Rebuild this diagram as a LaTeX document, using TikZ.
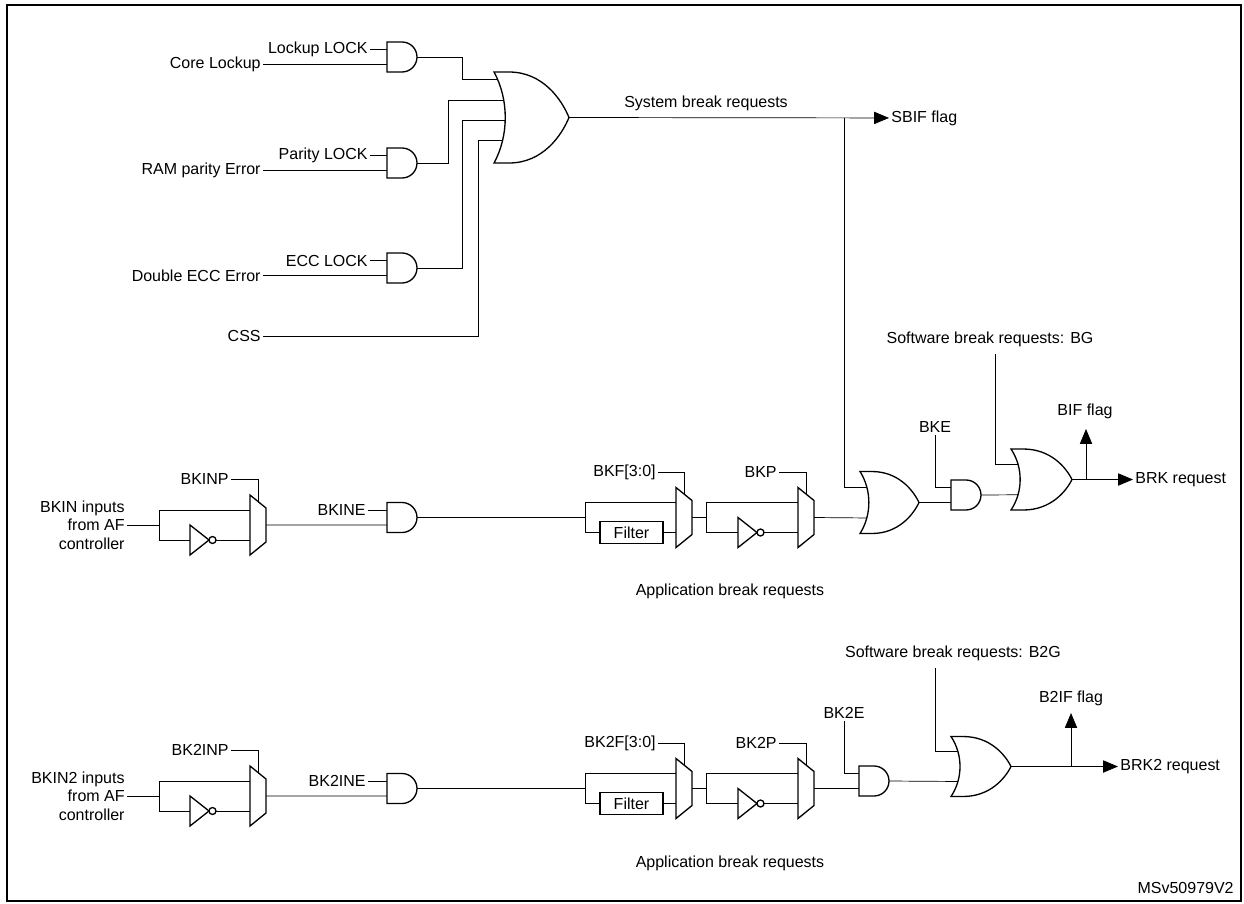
\documentclass[tikz,border=0pt]{standalone}
\usepackage{fontspec}
\setmainfont{Liberation Sans}
\usetikzlibrary{arrows.meta,backgrounds}

\begin{document}
\begin{tikzpicture}[x=0.02cm,y=-0.02cm,line width=0.75pt]
		\tikzset{gate/.style={draw,fill=white,line join=miter},
			lbl/.style={inner sep=1pt,font=\fontsize{9.1}{10.5}\selectfont},
			flag/.style={-{Triangle[length=8.5pt,width=7pt]}},
			pics/andg/.style={code={
				\draw[gate] (0,-15) -- (15,-15) arc[start angle=90,end angle=-90,radius=0.3cm] -- (0,15) -- cycle;
				\coordinate (-in1) at (0,-7.5); \coordinate (-in2) at (0,7.5); \coordinate (-out) at (30,0);}},
			pics/notg/.style={code={
				\draw[gate] (0,-15) -- (19,0) -- (0,15) -- cycle;
				\draw[gate] (22.5,0) circle[radius=0.07cm];
				\coordinate (-in) at (0,0); \coordinate (-out) at (26,0);}},
			pics/muxg/.style={code={
				\draw[gate] (0,0) -- (16,13) -- (16,47) -- (0,60) -- cycle;
				\coordinate (-in1) at (0,15); \coordinate (-in2) at (0,45);
				\coordinate (-out) at (16,30); \coordinate (-sel) at (8,6.5);}},
			pics/org/.style 2 args={code={
				\draw[gate] (0,-#2/2) -- (0.2*#1,-#2/2) .. controls (0.65*#1,-#2/2) and (0.9*#1,-0.2*#2) .. (#1,0)
					.. controls (0.9*#1,0.2*#2) and (0.65*#1,#2/2) .. (0.2*#1,#2/2) -- (0,#2/2)
					.. controls (0.2*#1,0.2*#2) and (0.2*#1,-0.2*#2) .. (0,-#2/2) -- cycle;
				\coordinate (-i1) at (0.18*#1,-#2/4); \coordinate (-i2) at (0.18*#1,#2/4); \coordinate (-out) at (#1,0);}}}
		
		\useasboundingbox (0,0) rectangle (1244,903);
		\draw[line width=1pt] (7,5) rectangle (1241,901);
		
		% system break inputs
		\pic (a1) at (387,57) {andg};
		\pic (a2) at (387,163) {andg};
		\pic (a3) at (387,268) {andg};
		\pic (sor) at (494,117.5) {org={75}{91}};
		\node[lbl,anchor=east] (lkl) at (370,49.5) {Lockup LOCK};
		\node[lbl,anchor=east] (core) at (263,64.5) {Core Lockup};
		\node[lbl,anchor=east] (pal) at (370,155.5) {Parity LOCK};
		\node[lbl,anchor=east] (ram) at (263,170.5) {RAM parity Error};
		\node[lbl,anchor=east] (ecl) at (370,260.5) {ECC LOCK};
		\node[lbl,anchor=east] (dec) at (263,275.5) {Double ECC Error};
		\node[lbl,anchor=east] (css) at (263,336) {CSS};
		\coordinate (j1) at (462,79); \coordinate (j2) at (448,100);
		\coordinate (j3) at (462,120); \coordinate (j4) at (478,140);
		\coordinate (s1) at (508,79); \coordinate (s2) at (508,100);
		\coordinate (s3) at (508,120); \coordinate (s4) at (508,140);
		\node[lbl] (sysb) at (706,103) {System break requests};
		\node[lbl,anchor=west] (sbif) at (889,118) {SBIF flag};
		\coordinate (sp0) at (844,117.5);
		
		% BKIN path
		\node[lbl,anchor=east,align=right] (bkin) at (127,525) {BKIN inputs\\from AF\\controller};
		\pic (inv1) at (190,540) {notg};
		\pic (mx1) at (250,495) {muxg};
		\pic (e1) at (387,517.5) {andg};
		\node[rectangle,draw,fill=white,lbl,minimum width=63*0.02cm,minimum height=22*0.02cm] (flt) at (631.5,532.5) {Filter};
		\pic (mx2) at (676,487.5) {muxg};
		\pic (inv2) at (738,532.5) {notg};
		\pic (mx3) at (798,487.5) {muxg};
		\pic (or3) at (860,502.5) {org={59}{62}};
		\pic (e2) at (951,495) {andg};
		\pic (or4) at (1011,479.5) {org={61}{61}};
		\node[lbl,anchor=east] (bkinp) at (231,479) {BKINP};
		\node[lbl,anchor=east] (bkine) at (368,510) {BKINE};
		\node[lbl,anchor=east] (bkf) at (658,472) {BKF[3:0]};
		\node[lbl,anchor=east] (bkp) at (779,472) {BKP};
		\node[lbl] (bke) at (935,427) {BKE};
		\node[lbl] (swbg) at (990,339) {Software break requests: BG};
		\node[lbl] (bif) at (1085,411) {BIF flag};
		\node[lbl,anchor=west] (brk) at (1133,479.5) {BRK request};
		\node[lbl] (app1) at (730,591) {Application break requests};
		\coordinate (sp1) at (159,525); \coordinate (sp2) at (585,517.5);
		\coordinate (sp3) at (706,517.5); \coordinate (sp4) at (1086,479.5);
		\coordinate (bgd) at (995,354); \coordinate (biftip) at (1086,429);
		
		% BKIN2 path
		\node[lbl,anchor=east,align=right] (bkin2) at (127,796) {BKIN2 inputs\\from AF\\controller};
		\pic (inv3) at (190,811) {notg};
		\pic (mx4) at (250,766) {muxg};
		\pic (e3) at (387,788.5) {andg};
		\node[rectangle,draw,fill=white,lbl,minimum width=63*0.02cm,minimum height=22*0.02cm] (flt2) at (631.5,803.5) {Filter};
		\pic (mx5) at (676,758.5) {muxg};
		\pic (inv4) at (738,803.5) {notg};
		\pic (mx6) at (798,758.5) {muxg};
		\pic (e4) at (859,781) {andg};
		\pic (or5) at (951,766.5) {org={60}{60}};
		\node[lbl,anchor=east] (bk2inp) at (231,750) {BK2INP};
		\node[lbl,anchor=east] (bk2ine) at (368,781) {BK2INE};
		\node[lbl,anchor=east] (bk2f) at (658,743) {BK2F[3:0]};
		\node[lbl,anchor=east] (bk2p) at (779,743) {BK2P};
		\node[lbl] (bk2e) at (844,713) {BK2E};
		\node[lbl] (swb2g) at (953,653) {Software break requests: B2G};
		\node[lbl] (b2if) at (1071,698) {B2IF flag};
		\node[lbl,anchor=west] (brk2) at (1118,766.5) {BRK2 request};
		\node[lbl] (app2) at (730,863) {Application break requests};
		\node[lbl,anchor=east] (ref) at (1236,888) {MSv50979V2};
		\coordinate (sp5) at (159,796); \coordinate (sp6) at (585,788.5);
		\coordinate (sp7) at (706,788.5); \coordinate (sp8) at (1071,766.5);
		\coordinate (b2gd) at (935,668); \coordinate (b2tip) at (1071,713);
		
		\begin{scope}[on background layer]
		\draw (lkl) -- (a1-in1); \draw (core) -- (a1-in2);
		\draw (pal) -- (a2-in1); \draw (ram) -- (a2-in2);
		\draw (ecl) -- (a3-in1); \draw (dec) -- (a3-in2);
		\draw (a1-out) -| (j1) -- (s1);
		\draw (a2-out) -| (j2) -- (s2);
		\draw (a3-out) -| (j3) -- (s3);
		\draw (css) -| (j4) -- (s4);
		\draw[flag] (sor-out) -- (sbif);
		\draw (sp0) |- (or3-i1);
		
		\draw (bkin.east) -- (sp1) |- (mx1-in1);
		\draw (sp1) |- (inv1-in); \draw (inv1-out) -- (mx1-in2);
		\draw (bkinp) -| (mx1-sel);
		\draw (mx1-out) -- (e1-in2); \draw (bkine) -- (e1-in1);
		\draw (e1-out) -- (sp2) |- (mx2-in1);
		\draw (sp2) |- (flt); \draw (flt) -- (mx2-in2);
		\draw (bkf) -| (mx2-sel);
		\draw (mx2-out) -- (sp3) |- (mx3-in1);
		\draw (sp3) |- (inv2-in); \draw (inv2-out) -- (mx3-in2);
		\draw (bkp) -| (mx3-sel);
		\draw (mx3-out) -- (or3-i2);
		\draw (bke) |- (e2-in1); \draw (or3-out) -- (e2-in2);
		\draw (bgd) |- (or4-i1); \draw (e2-out) -- (or4-i2);
		\draw[flag] (or4-out) -- (brk); \draw[flag] (sp4) -- (biftip);
		
		\draw (bkin2.east) -- (sp5) |- (mx4-in1);
		\draw (sp5) |- (inv3-in); \draw (inv3-out) -- (mx4-in2);
		\draw (bk2inp) -| (mx4-sel);
		\draw (mx4-out) -- (e3-in2); \draw (bk2ine) -- (e3-in1);
		\draw (e3-out) -- (sp6) |- (mx5-in1);
		\draw (sp6) |- (flt2); \draw (flt2) -- (mx5-in2);
		\draw (bk2f) -| (mx5-sel);
		\draw (mx5-out) -- (sp7) |- (mx6-in1);
		\draw (sp7) |- (inv4-in); \draw (inv4-out) -- (mx6-in2);
		\draw (bk2p) -| (mx6-sel);
		\draw (mx6-out) -- (e4-in2);
		\draw (bk2e) |- (e4-in1);
		\draw (b2gd) |- (or5-i1); \draw (e4-out) -- (or5-i2);
		\draw[flag] (or5-out) -- (brk2); \draw[flag] (sp8) -- (b2tip);
		\end{scope}
		
\end{tikzpicture}
\end{document}
